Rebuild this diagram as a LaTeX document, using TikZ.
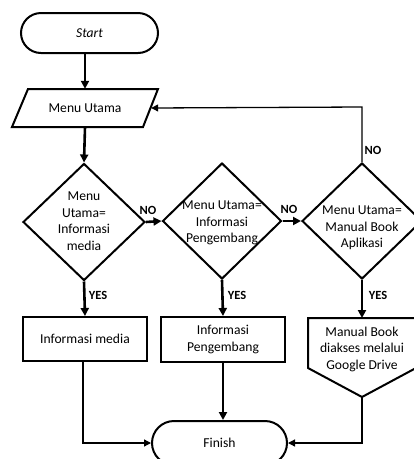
\documentclass[tikz,border=0pt]{standalone}
\usepackage{fontspec}
\setmainfont{Carlito}
\usetikzlibrary{shapes.geometric,shapes.misc,arrows.meta}
\tikzset{
  txt/.style={font=\fontsize{13.6}{16.5}\selectfont, align=center, inner sep=0pt},
  lbl/.style={font=\fontsize{12.5}{14}\selectfont\bfseries, inner sep=0pt},
  term/.style={rounded rectangle, draw, line width=2pt, minimum width=#1, inner sep=0pt},
  dia/.style={diamond, draw, line width=2pt, inner sep=0pt},
  box/.style={rectangle, draw, line width=2pt, inner sep=0pt},
  outline/.style={draw, line width=2pt, line join=miter},
  thickarrow/.style={line width=2.6pt, -{Triangle[length=8pt,width=8pt]}},
  thinarrow/.style={line width=1.3pt, -{Triangle[length=7pt,width=7pt]}},
}
\begin{document}
\begin{tikzpicture}[x=1pt,y=-1pt]
\useasboundingbox (0,0) rectangle (414,459);
\clip (0,0) rectangle (414,459);
\fill[white] (0,0) rectangle (414,459);
% Start
\node[term=137pt, minimum height=40pt, txt] (start) at (89.5,33) {\itshape Start};
% Menu Utama parallelogram
\draw[outline] (28,89) -- (158,89) -- (143,127) -- (12,127) -- cycle;
\node[txt, minimum width=132pt, minimum height=38pt] (menu) at (85,108) {Menu Utama};
% diamonds
\node[dia, minimum width=122pt, minimum height=117pt] (d1) at (84,222) {};
\node[txt] (t1) at (84,221) {Menu\\Utama=\\Informasi\\media};
\node[dia, minimum width=119pt, minimum height=116pt] (d2) at (222,221) {};
\node[txt] (t2) at (222,223) {Menu Utama=\\Informasi\\Pengembang};
\node[dia, minimum width=120pt, minimum height=116pt] (d3) at (362,221) {};
\node[txt] (t3) at (362,228) {Menu Utama=\\Manual Book\\Aplikasi};
% process boxes
\node[box, minimum width=124pt, minimum height=44pt, txt] (b1) at (85,339) {Informasi media};
\node[box, minimum width=124pt, minimum height=45pt, txt] (b2) at (223,339.5) {Informasi\\Pengembang};
% off-page shape
\draw[outline] (308,318) -- (416,318) -- (416,368) -- (362,397) -- (308,368) -- cycle;
\coordinate (b3top) at (362,318);
\coordinate (b3bot) at (362,397);
\node[txt] (b3) at (362,349) {Manual Book\\diakses melalui\\Google Drive};
% Finish
\node[term=135pt, minimum height=44pt, txt] (finish) at (219.5,443) {Finish};
% connectors
\draw[thickarrow] (start.south -| menu.north) -- (menu.north);
\draw[thickarrow] (menu.south) -- (d1.north);
\draw[thickarrow] (d1.east) -- (d2.west);
\draw[thickarrow] (d2.east) -- (d3.west);
\draw[thinarrow] (d3.north) -- (362,107) -- (menu.east);
\draw[thickarrow] (d1.south) -- (b1.north);
\draw[thickarrow] (d2.south) -- (b2.north);
\draw[thickarrow] (d3.south) -- (b3top);
\draw[thinarrow] (b1.south -| 83,0) |- (finish.west);
\draw[thickarrow] (b2.south) -- (b2.south |- finish.north);
\draw[thinarrow] (b3bot) |- (finish.east);
% labels
\node[lbl] (no1) at (148,210) {NO};
\node[lbl] (no2) at (289,209) {NO};
\node[lbl] (no3) at (373,150) {NO};
\node[lbl] (yes1) at (98,295) {YES};
\node[lbl] (yes2) at (237,295) {YES};
\node[lbl] (yes3) at (378,295) {YES};
\end{tikzpicture}
\end{document}
